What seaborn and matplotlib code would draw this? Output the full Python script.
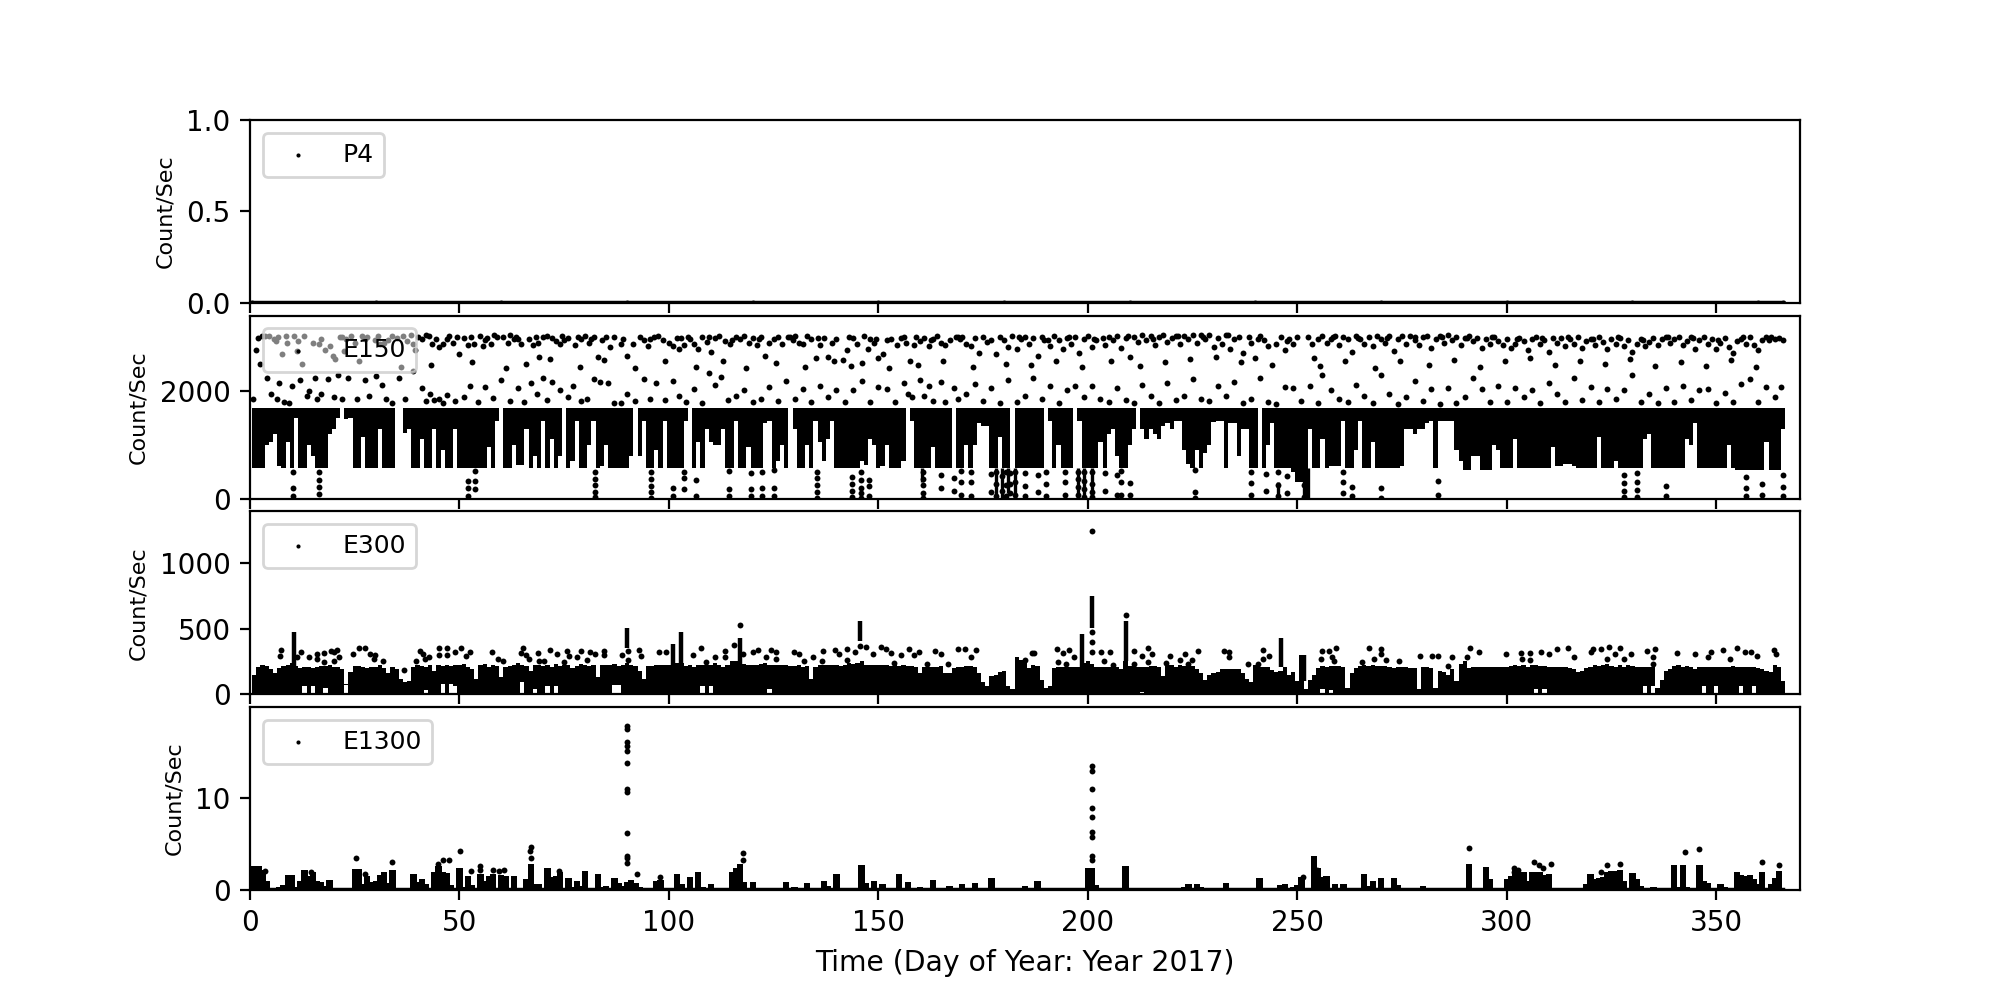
import numpy as np
import pandas as pd
import seaborn as sns
import matplotlib
matplotlib.use("Agg")
import matplotlib.pyplot as plt

# all values
# the solid black parts of the panels are too dense to read dot by dot, so they
# are kept as one height per day and drawn as columns

p4_days = [0.5, 30, 60, 90, 120, 150, 180, 210, 240, 270, 300, 330, 360, 366]
p4_counts = [0, 0, 0, 0, 0, 0, 0, 0, 0, 0, 0, 0, 0, 0]

# E150: bottom of the dense block for each day (block top is e150_block_top)
e150_block_top = 1680
e150_block_low = [
    1680, 560, 560, 560, 1000, 1050, 1100, 600, 560, 560,
    560, 1500, 560, 560, 560, 800, 560, 560, 560, 1200,
    1300, 1500, 1680, 1480, 1480, 560, 560, 560, 560, 560,
    560, 900, 560, 560, 560, 1680, 1680, 1220, 1200, 560,
    560, 560, 560, 560, 900, 560, 560, 560, 560, 560,
    560, 560, 560, 560, 560, 560, 560, 560, 560, 560,
    1680, 560, 560, 560, 620, 620, 560, 560, 800, 560,
    560, 560, 560, 560, 800, 1680, 560, 700, 560, 560,
    560, 1000, 500, 560, 600, 560, 560, 560, 560, 560,
    560, 800, 1680, 800, 1000, 560, 560, 560, 560, 560,
    560, 560, 560, 560, 560, 1680, 560, 560, 560, 560,
    1050, 1000, 1000, 560, 560, 560, 600, 560, 560, 560,
    560, 560, 560, 1400, 600, 560, 700, 560, 560, 1680,
    800, 560, 560, 1000, 560, 560, 560, 700, 1100, 560,
    560, 560, 560, 560, 560, 560, 700, 620, 700, 1000,
    560, 600, 1000, 560, 560, 560, 700, 1680, 560, 560,
    560, 560, 560, 560, 560, 560, 560, 560, 1680, 560,
    560, 800, 560, 1000, 1300, 1350, 1350, 560, 560, 560,
    560, 560, 1680, 560, 560, 560, 560, 560, 560, 560,
    1680, 1000, 560, 560, 560, 560, 560, 1680, 1000, 560,
    560, 560, 560, 560, 560, 1200, 560, 800, 560, 560,
    1000, 560, 1680, 600, 1100, 1300, 1200, 1100, 1350, 1400,
    1300, 1450, 1300, 900, 650, 560, 600, 560, 850, 1000,
    1430, 1450, 1450, 560, 1400, 1400, 800, 1300, 1300, 560,
    560, 1680, 560, 560, 560, 560, 560, 560, 560, 500,
    300, 300, 0, 560, 560, 560, 560, 560, 600, 600,
    600, 560, 560, 560, 900, 560, 560, 560, 560, 560,
    560, 560, 560, 560, 560, 600, 1200, 1300, 1200, 1300,
    1300, 1400, 1450, 560, 1450, 1450, 1450, 1450, 900, 700,
    530, 530, 800, 800, 530, 530, 530, 1000, 900, 560,
    560, 560, 560, 560, 560, 560, 560, 560, 560, 560,
    560, 560, 600, 600, 650, 650, 600, 560, 560, 560,
    560, 560, 800, 560, 560, 560, 700, 560, 560, 560,
    560, 560, 560, 1100, 1200, 560, 560, 560, 560, 560,
    560, 560, 560, 560, 1000, 1400, 560, 560, 560, 560,
    560, 560, 560, 560, 560, 530, 530, 530, 530, 530,
    530, 530, 530, 530, 530, 530, 1300,
]

# white slits in the E150 block: day and the level the block stops at
e150_slit_days = [
    6, 14, 24, 31, 38, 44, 49, 59, 66, 70, 75, 78, 82, 94, 99, 104, 109, 113,
    116, 124, 130, 135, 139, 152, 158, 168, 174, 182, 191, 198, 206, 211, 213,
    222, 232, 237, 244, 253, 261, 265, 276,
    9, 27, 41, 46, 57, 63, 72, 85, 97, 107, 119, 127, 136,
    148, 163, 171, 179, 193, 203, 226, 243, 256, 268, 302,
    311, 322, 334, 343, 353, 362,
]
e150_slit_low = [
    1200, 1000, 1500, 1300, 1300, 1300, 1300, 1450, 1300, 1450, 1450, 1450, 1450, 1450, 1450, 1450, 1300, 1300,
    1450, 1450, 1300, 1450, 1450, 1000, 1450, 1450, 1400, 1450, 1450, 1450, 1300, 1300, 1300,
    1450, 1450, 1300, 1400, 1300, 1450, 1450, 1300,
    1050, 1150, 1100, 900, 950, 1000, 1100, 1000, 900, 1050, 950, 1000, 1050,
    1100, 950, 1000, 1150, 1000, 1050, 900, 1000, 1100, 1050, 1100,
    950, 1150, 1050, 1100, 1000, 1050,
]

e150_upper_days = [
    1.4, 1.9, 2.8, 3.5, 4.6, 5.7, 6.2, 7.6, 8.5, 8.8,
    10.4, 11.3, 11.5, 13, 15, 16.5, 18, 19, 19.8, 20.2,
    21.6, 22.5, 23, 24.2, 25, 26.8, 27.5, 28, 29.8, 30.5,
    32, 33, 34, 35, 36.5, 37.5, 38.5, 39.5, 40, 41,
    42, 42.8, 43.5, 44.3, 45, 46, 47, 48.5, 49.5, 50,
    51, 52, 52.8, 53.5, 54.8, 55.5, 56.6, 57.5, 58.2, 59,
    60.5, 61.5, 62, 63, 64, 64.8, 66.5, 67.5, 68.2, 69,
    70, 71, 72, 73, 74, 75, 76, 77.5, 78.2, 79,
    80, 81, 82, 83, 84, 85, 86, 88.5, 89, 90,
    91.5, 93, 94, 95, 96.5, 97.5, 98.5, 100, 101, 102,
    102.5, 103.5, 104.5, 105, 106, 107, 108, 109, 110, 111,
    112, 113.5, 114.5, 116, 117, 118, 119, 120, 121, 122,
    123, 124, 125, 126, 127, 128.5, 129.5, 130, 131, 132,
    133, 134, 135, 136, 137, 138, 139, 140, 141.5, 142.5,
    143.5, 144, 145, 146.5, 147.5, 148, 149, 150, 151, 152,
    153, 154.5, 155.5, 156.5, 157.5, 158.5, 159, 160, 161, 162,
    163, 164, 165, 166, 167, 168.5, 169.5, 170, 171, 172,
    173, 174, 175, 176, 178, 179, 180, 181, 182, 183,
    184, 185, 186, 187, 188, 189, 190.5, 191, 192, 193,
    194, 195, 196, 197, 198, 199, 200, 201, 202, 203.5,
    204, 205, 206, 207, 208, 209, 210, 211, 212, 213,
    214, 215, 216, 217, 218, 219, 220, 221, 222, 223,
    224, 225, 226, 227, 228, 229, 230, 231, 232, 233,
    234, 235, 236, 237, 238.5, 239, 240, 241, 242, 243,
    245, 246, 247, 248, 249, 252.5, 253.5, 254, 255, 256,
    257, 258, 259, 260, 261, 262, 263, 264, 265, 266,
    267, 268, 269, 270, 271, 272, 273, 274, 275, 276,
    277, 278, 279, 280, 281, 282, 283, 284, 285, 286,
    287, 288, 289, 290, 291, 292, 293, 294, 295, 296,
    297, 298, 299, 300, 301, 302, 303, 304, 305, 306,
    307, 308, 309, 310, 311, 312, 313, 314, 315, 316,
    317, 318, 319, 320, 321, 322, 323, 324, 325, 326,
    327, 328, 329, 330, 331, 332, 333, 334, 335, 336,
    337, 338, 339, 340, 341, 342, 343, 344, 345, 346,
    347, 348, 349, 350, 351, 352, 353, 354, 355, 356,
    357, 358, 359, 360, 361, 362, 363, 364, 365, 366,
]
e150_upper_counts = [
    2760, 2980, 3030, 3025, 3025, 2960, 2930, 2680, 3025, 2900,
    3025, 2745, 2930, 3025, 2900, 2880, 2760, 2830, 2650, 2600,
    3000, 2750, 2960, 3030, 2900, 3020, 2960, 3000, 2950, 3020,
    2900, 2950, 3030, 2980, 3020, 2930, 3040, 2760, 3000, 2960,
    3040, 3020, 2880, 2960, 2820, 2880, 2960, 2900, 3000, 2680,
    2980, 2860, 3010, 2880, 3020, 2840, 2980, 2880, 3040, 3000,
    3010, 2900, 3040, 2960, 2960, 2880, 2960, 2860, 3010, 2640,
    3000, 3020, 2990, 2930, 2880, 2950, 2980, 2850, 3010, 2960,
    3020, 2890, 3000, 2630, 2950, 3000, 2820, 2880, 2960, 2660,
    2880, 3010, 2940, 2840, 3010, 3030, 2950, 2900, 2840, 2990,
    2780, 2860, 3000, 2970, 2870, 2780, 3000, 2920, 2730, 2990,
    3030, 2930, 2880, 3000, 2960, 3030, 2900, 2980, 2850, 3010,
    2650, 2900, 2960, 3000, 2880, 3010, 2950, 3020, 2900, 2880,
    3030, 2960, 2620, 2850, 2980, 2640, 2900, 2960, 2580, 2760,
    2460, 2980, 2880, 3030, 2780, 2960, 2890, 2620, 2690, 2940,
    2960, 2860, 2980, 2890, 2560, 2850, 3010, 2930, 2990, 2840,
    2960, 3020, 2900, 2860, 2950, 3000, 2960, 3010, 2880, 2830,
    2980, 2700, 3010, 2920, 2690, 3000, 2950, 2820, 3020, 2780,
    2960, 3000, 2870, 2980, 2660, 3010, 2940, 2830, 3020, 2950,
    2780, 2990, 2880, 3010, 2700, 2960, 3030, 2810, 2940, 2990,
    2860, 3010, 2950, 3030, 2800, 2980, 2630, 3010, 2910, 3040,
    2950, 3020, 2860, 3000, 3040, 2920, 2980, 3030, 2880, 3020,
    2960, 3040, 2890, 3050, 2970, 3040, 2820, 2990, 2880, 3040,
    2780, 2960, 3010, 2700, 3000, 2890, 2620, 3020, 2950, 2830,
    2870, 3000, 2760, 2960, 2880, 3010, 2880, 2620, 2960, 3020,
    2900, 2970, 3030, 2850, 3010, 2960, 2720, 3030, 2970, 2880,
    3000, 2830, 3030, 2960, 2890, 3020, 2750, 2960, 3030, 2880,
    3020, 2950, 2860, 3000, 3030, 2800, 2960, 3020, 2890, 3040,
    2950, 3010, 2860, 2980, 3030, 2930, 2990, 2800, 2960, 2880,
    3010, 2930, 2850, 2970, 2800, 2880, 2990, 2930, 2760, 2960,
    3000, 2870, 2950, 2720, 2990, 2900, 2980, 2830, 2960, 2880,
    3000, 2800, 2930, 2970, 2860, 3000, 2920, 2780, 2960, 2880,
    2990, 2840, 2950, 2720, 2880, 2970, 2840, 2920, 2990, 2860,
    2960, 3010, 2890, 2960, 3000, 2860, 2930, 3010, 2780, 2950,
    3000, 2870, 2960, 2780, 2900, 2980, 2820, 2700, 2930, 2970,
    2880, 3000, 2860, 2770, 2950, 3000, 3010, 2960, 2990, 2940,
]

# second pass over the top cloud, where dots sit on top of each other
e150_extra_days = [
    2.4, 6.8, 12.4, 17, 22, 26, 31, 36, 39, 43.2, 47.5, 53, 56, 61, 63.5, 66, 68.8, 71.5, 74.5, 78.8,
    81.5, 84.5, 87, 92, 95.5, 99, 103, 106.5, 109.5, 113, 115, 118.5, 121.5, 125.5, 129, 132.5, 135.5, 139.5,
    143, 146, 149.5, 152.5, 156, 159.5, 162.5, 165.5, 169, 172.5, 177, 180.5, 183.5, 186.5, 189.5, 192.5, 195.5,
    198.5, 201.5, 205.5, 209.5, 212.5, 215.5, 218.5, 221.5, 224.5, 227.5, 230.5, 233.5, 236.5, 240.5, 244, 247.5,
    250, 255.5, 258.5, 261.5, 264.5, 268.5, 271.5, 274.5, 278, 281.5, 284.5, 287.5, 290.5, 293.5, 296.5, 299.5,
    302.5, 305.5, 308.5, 311.5, 314.5, 317.5, 320.5, 323.5, 326.5, 329.5, 332.5, 335.5, 338.5, 341.5, 344.5,
    347.5, 350.5, 353.5, 356.5, 359.5, 362.5,
]
e150_extra_counts = [
    2500, 3000, 2500, 2960, 3010, 2560, 2880, 2450, 2880, 2480, 3020, 2540, 2950, 2430, 3010, 2500, 2900, 2590, 3020, 2440,
    2960, 2570, 3000, 2420, 2960, 2560, 2980, 2450, 3010, 2550, 2950, 2420, 2960, 2520, 3010, 2450, 2980, 2560,
    3010, 2520, 2960, 2430, 3000, 2480, 2950, 2560, 3000, 2440, 2950, 2510, 3010, 2480, 2950, 2560, 3010,
    2440, 2960, 2550, 3020, 2470, 2960, 2540, 3030, 2600, 3000, 2630, 3040, 2540, 2960, 2480, 2930,
    3000, 2470, 3010, 2560, 2980, 2430, 2990, 2560, 3000, 2490, 3010, 2570, 2980, 2450, 3010, 2560,
    2960, 2620, 2990, 2480, 3000, 2560, 2960, 2510, 3010, 2600, 2950, 2470, 3000, 2540, 2990,
    2460, 2950, 2570, 3000, 2450, 2950,
]

e150_middle_days = [
    0.8, 4, 5, 6.5, 7, 8, 9.2, 10, 12, 13.5,
    14, 15.5, 16, 17, 18.5, 20, 21, 22, 23.5, 25.5,
    27.5, 28.5, 30, 31.5, 32.5, 34, 35.5, 37, 38.8, 41,
    42, 43, 44, 45, 46, 47, 49, 51, 52.5, 54.5,
    56, 58, 60, 62, 64, 65.5, 67, 68.5, 70, 71,
    72, 74, 76, 77, 79, 80.5, 82, 83.5, 85.5, 87,
    88.5, 90, 92, 94, 95.5, 97, 99, 101, 102.5, 104,
    106, 108, 109.5, 111, 112.5, 114, 116, 118, 120, 122,
    124, 126, 128, 130, 132, 134, 136, 138, 140, 142,
    144, 146, 148, 150, 152, 154, 156, 157, 158, 160,
    161, 162, 163, 165, 166, 168, 169, 171, 173, 175,
    177, 179, 181, 183, 185, 187, 189, 191, 193, 195,
    197, 199, 201, 203, 205, 207, 209, 211, 213, 215,
    217, 219, 221, 223, 225, 227, 229, 231, 233, 235,
    237, 239, 241, 243, 245, 247, 249, 251, 253, 255,
    256, 258, 260, 262, 264, 266, 268, 270, 272, 274,
    276, 278, 280, 282, 284, 286, 288, 290, 292, 294,
    296, 298, 300, 302, 304, 306, 308, 310, 312, 314,
    316, 318, 320, 322, 324, 326, 328, 330, 332, 334,
    336, 338, 340, 342, 344, 346, 348, 350, 352, 354,
    356, 358, 360, 362, 364, 365.5,
]
e150_middle_counts = [
    1850, 2240, 1950, 1850, 2150, 1800, 1770, 2100, 2200, 1900,
    2000, 2250, 1850, 1950, 2220, 1880, 2300, 1860, 2240, 1850,
    2200, 1900, 2280, 2120, 1860, 1780, 2240, 1850, 2380, 2060,
    1820, 1950, 1830, 1860, 1780, 1930, 1820, 1890, 2100, 1800,
    2080, 1870, 2210, 1820, 2060, 1800, 2150, 1950, 2240, 1830,
    2170, 2020, 1880, 2100, 1820, 1850, 2220, 2170, 2140, 1780,
    1780, 1950, 1820, 2230, 1850, 2150, 1840, 2190, 1900, 1800,
    2040, 1780, 2330, 2110, 2260, 1830, 1900, 2010, 1800, 1860,
    2080, 1820, 2190, 1850, 2040, 1790, 2100, 1880, 2020, 1790,
    2010, 2190, 1800, 2080, 2040, 1800, 2150, 1950, 1880, 2200,
    1900, 2100, 1820, 2160, 1790, 2060, 1850, 1950, 2130, 1820,
    2060, 1780, 2200, 1800, 1900, 2240, 1860, 2100, 1770, 2020,
    2100, 1880, 2090, 1850, 1800, 2050, 1840, 1780, 2120, 1900,
    1780, 2150, 1830, 1900, 2230, 1860, 1820, 2100, 1900, 2160,
    1780, 1850, 2240, 1800, 1760, 2080, 2050, 1820, 2100, 1780,
    2290, 2010, 1850, 1790, 2120, 1900, 1780, 2300, 1950, 1760,
    1880, 2180, 1820, 2030, 1750, 2050, 1770, 1880, 2250, 2040,
    1800, 2100, 1790, 2050, 1890, 2010, 1780, 2140, 1950, 1790,
    2250, 1840, 2080, 1790, 2040, 1860, 2010, 2290, 1800, 1950,
    1780, 2060, 1790, 2100, 1840, 2010, 2030, 1780, 1960, 1790,
    2130, 2220, 1790, 2080, 1880, 2080,
]

e150_lower_days = [
    10.2, 10.2, 10.2, 16.5, 16.5, 16.5, 16.5, 52, 52, 52, 53.8, 53.8, 53.8,
    82.4, 82.4, 82.4, 82.4, 82.4, 95.7, 95.7, 95.7, 95.7, 95.7, 101, 101,
    103.5, 103.5, 103.5, 106.5, 106.5, 114.4, 114.4, 114.4, 119.7, 119.7, 119.7,
    122.2, 122.2, 122.2, 125, 125, 125, 135.4, 135.4, 135.4, 135.4, 135.4,
    143.7, 143.7, 143.7, 143.7, 145.8, 145.8, 145.8, 145.8, 145.8, 147.8, 147.8, 147.8,
    160.6, 160.6, 160.6, 160.6, 160.6, 165, 165, 168, 168, 169.8, 169.8, 169.8,
    172, 172, 172, 177, 177, 178, 178, 178, 179.5, 179.5, 180.5, 180.5, 180.5,
    181.5, 181.5, 181.5, 182.5, 182.5, 182.5, 185, 185, 185, 188, 188, 190, 190, 190,
    194.5, 194.5, 194.5, 197.6, 197.6, 197.6, 197.6, 199, 199, 199, 199, 201, 201, 201, 201,
    204, 204, 207, 207, 208, 208, 208, 210, 210, 225.5, 225.5, 225.5,
    239, 239, 239, 242.5, 242.5, 245.5, 245.5, 245.5, 247.5, 247.5, 251.5, 251.5, 251.5,
    261, 261, 261, 263, 263, 270, 270, 283.7, 283.7,
    328, 328, 328, 328, 331, 331, 331, 331, 338, 338, 357, 357, 357, 361, 361,
    366, 366, 366,
]
e150_lower_counts = [
    500, 190, 40, 500, 340, 210, 80, 330, 200, 50, 520, 330, 180,
    500, 370, 250, 130, 30, 500, 370, 240, 120, 20, 200, 40,
    500, 390, 180, 340, 40, 510, 170, 50, 470, 170, 50,
    500, 190, 50, 540, 200, 50, 500, 380, 260, 130, 20,
    400, 270, 150, 30, 500, 350, 200, 100, 20, 350, 230, 40,
    500, 370, 250, 110, 20, 430, 200, 390, 140, 520, 310, 60,
    500, 300, 50, 450, 120, 500, 270, 40, 420, 150, 500, 250, 40,
    480, 280, 100, 500, 300, 60, 470, 230, 50, 430, 120, 500, 270, 40,
    500, 300, 60, 500, 360, 210, 60, 500, 330, 170, 30, 500, 280, 130, 30,
    480, 140, 440, 60, 520, 300, 60, 290, 60, 540, 130, 10,
    490, 290, 60, 460, 140, 500, 260, 40, 420, 110, 500, 260, 30,
    500, 310, 100, 220, 50, 200, 20, 320, 60,
    440, 290, 140, 30, 470, 300, 160, 30, 240, 50, 400, 200, 50, 280, 70,
    430, 220, 40,
]
# stretches under the block where the dots run together
e150_deep_days = [160.5, 178, 179.5, 181, 182.5, 197.6, 199, 201, 245.5, 251.5, 252.5]
e150_deep_low = [300, 0, 0, 100, 0, 0, 0, 0, 0, 0, 0]
e150_deep_high = [560, 560, 560, 560, 560, 560, 560, 560, 300, 560, 560]

e300_counts_day = [
    0, 150, 210, 225, 215, 190, 165, 200, 215, 225,
    235, 215, 200, 205, 205, 200, 205, 215, 215, 225,
    210, 205, 190, 80, 170, 215, 215, 205, 200, 210,
    205, 220, 200, 165, 205, 195, 120, 90, 100, 210,
    225, 215, 205, 220, 180, 225, 215, 220, 215, 225,
    220, 230, 210, 190, 120, 225, 230, 205, 220, 215,
    130, 210, 215, 220, 235, 220, 215, 175, 220, 225,
    215, 225, 210, 230, 215, 225, 220, 200, 215, 230,
    225, 215, 225, 130, 225, 220, 225, 230, 215, 225,
    235, 220, 215, 175, 120, 215, 215, 220, 220, 225,
    225, 225, 235, 240, 215, 220, 205, 225, 225, 220,
    225, 235, 220, 210, 225, 250, 255, 240, 230, 225,
    225, 225, 230, 240, 220, 225, 225, 225, 220, 215,
    215, 220, 205, 215, 120, 210, 225, 225, 220, 225,
    225, 215, 220, 235, 230, 240, 250, 220, 220, 220,
    220, 220, 220, 215, 220, 215, 220, 215, 215, 210,
    165, 205, 210, 205, 210, 215, 160, 165, 200, 205,
    210, 215, 215, 205, 160, 90, 60, 140, 150, 170,
    175, 60, 40, 280, 260, 270, 200, 220, 215, 110,
    50, 60, 200, 210, 210, 205, 205, 205, 205, 240,
    250, 230, 210, 205, 205, 205, 205, 205, 190, 250,
    215, 215, 210, 205, 210, 215, 215, 205, 140, 220,
    225, 210, 225, 215, 235, 215, 195, 165, 105, 150,
    165, 170, 190, 190, 190, 195, 195, 165, 120, 90,
    220, 210, 205, 205, 185, 170, 175, 205, 150, 170,
    100, 300, 40, 110, 150, 200, 215, 210, 215, 215,
    215, 205, 50, 160, 200, 215, 225, 215, 225, 215,
    215, 215, 210, 200, 210, 210, 210, 200, 200, 40,
    205, 210, 200, 50, 180, 170, 150, 195, 100, 230,
    250, 200, 205, 205, 205, 205, 205, 205, 205, 205,
    205, 215, 225, 215, 225, 210, 220, 225, 215, 215,
    210, 210, 210, 210, 210, 200, 190, 170, 175, 200,
    210, 225, 215, 225, 230, 215, 205, 225, 210, 220,
    215, 205, 205, 205, 205, 205, 45, 110, 175, 195,
    215, 220, 210, 215, 205, 195, 205, 210, 205, 205,
    205, 205, 210, 205, 215, 210, 205, 205, 205, 205,
    200, 190, 175, 170, 220, 210, 100,
]
# days where the black column stops short of the axis
e300_notch_days = [13, 15, 18, 23, 42, 46, 48, 49, 65, 68, 71, 73, 87, 88, 108, 110, 124,
                   213, 256, 258, 307, 309, 333, 335, 347, 350, 356, 359]
e300_notch_low = [60, 60, 50, 70, 30, 80, 80, 60, 90, 40, 60, 60, 70, 70, 60, 60, 40,
                  20, 40, 30, 40, 40, 60, 60, 60, 60, 60, 60]

e300_spike_days = [10.6, 90, 101, 103, 117, 145.5, 198.5, 201, 209, 246, 251.7]
e300_spike_low = [200, 355, 205, 205, 230, 405, 180, 505, 255, 205, 100]
e300_spike_high = [470, 505, 380, 470, 425, 555, 455, 745, 555, 430, 300]

e300_dot_days = [
    7.3, 7.1, 12.2, 11.2, 14, 15.9, 15.9, 17.7, 19.3, 20.1, 20.7, 21.3, 20.1, 17.7,
    24.6, 25.9, 27.4, 28.7, 29.9, 29.5, 31.7, 36.8, 40.5, 41.2, 42.7, 41.7, 39.6,
    45.1, 47, 45.1, 47, 49, 50.4, 52.4, 51.5, 57.7, 59.1, 60.4, 65.2, 64.6, 65.9,
    66.5, 68.7, 68.9, 70.1, 71.6, 73.2, 75.6, 76.2, 75, 79, 78, 81.1, 80.5, 82.3,
    84.4, 84.4, 88.8, 90.2, 92.9, 93.3, 90.2, 97.6, 99.4, 105.7, 107.6, 108.8, 111,
    113.4, 113.4, 115.5, 117.7, 120.1, 121.3, 124.4, 125.6, 123.2, 125.6, 129.9,
    131.1, 134.5, 132.3, 136.8, 136.6, 139.6, 140.5, 142.4, 142.4, 144.5, 145.7, 147,
    148.8, 150.6, 151.8, 153, 153.7, 155.5, 157.3, 158.5, 159.8, 161.6, 163.4, 164.9,
    168.9, 170.7, 172, 173.2, 166.5, 187.2, 185,
    186.7, 192.7, 194.1, 195.6, 196.6, 192.8, 194.9, 203.2, 205.3, 203.8, 205.9, 211.1,
    214.3, 212.9, 215.2, 211, 214.3, 219.6, 218.6, 223.1, 222.1, 224.9, 226.2, 224,
    232.6, 233.8, 233.8, 238.2, 241.7, 241.7, 243.2, 240.5, 255.9, 257.5, 259.2, 255.6,
    258.2, 258.8, 267, 269.9, 269.9, 268.3, 271.2, 265.5, 274.3, 279.4, 282.2, 283.6,
    286.9, 286, 291.3, 293.3, 290.4, 299.9, 303.4, 305.6, 308.1, 310.2, 312.1, 314.7,
    316, 303.7, 305.6, 320.1, 320.7, 322.6, 324.3, 327.1, 325.8, 329.6, 328.1, 323.9,
    333.4, 335.5, 334.9, 334.9, 340.7, 345, 348.8, 348, 351.7, 353.4, 354.9, 356.8,
    358.4, 359.7, 363.7, 364.3, 201, 209, 117, 201, 201, 201,
]
e300_dot_counts = [
    337, 294, 319, 281, 286, 307, 269, 312, 332, 319, 337, 286, 251, 244,
    307, 352, 352, 307, 302, 269, 251, 186, 327, 307, 281, 269, 251,
    352, 352, 302, 302, 319, 352, 319, 294, 322, 269, 256, 352, 312, 302,
    269, 312, 251, 251, 337, 307, 332, 294, 244, 332, 281, 319, 261, 307,
    332, 302, 302, 332, 337, 294, 261, 322, 322, 302, 352, 244, 286,
    332, 281, 374, 307, 319, 337, 337, 319, 281, 269, 319,
    307, 286, 256, 327, 251, 337, 307, 344, 261, 319, 369, 357,
    307, 362, 344, 312, 236, 302, 344, 302, 319, 231, 332, 307,
    344, 344, 281, 337, 231, 314, 264,
    314, 344, 314, 339, 281, 244, 231, 319, 324, 256, 224, 332,
    349, 294, 307, 231, 244, 294, 236, 307, 261, 264, 332, 231,
    332, 319, 281, 231, 337, 269, 289, 231, 332, 332, 349, 269,
    281, 251, 349, 344, 307, 269, 261, 244, 256, 294, 294, 294,
    281, 214, 349, 319, 281, 307, 314, 314, 324, 307, 344, 349,
    281, 269, 261, 319, 344, 344, 357, 352, 307, 307, 269, 269,
    332, 344, 281, 231, 314, 307, 319, 281, 337, 269, 352, 324,
    324, 294, 339, 307, 1240, 600, 525, 470, 400, 320,
]

e1300_peak_days = [
    1, 2, 3, 4, 7, 8, 9, 10, 11, 12, 13, 14, 15, 16, 17, 18, 19, 25, 26, 27, 28, 29, 30,
    31, 32, 33, 34, 39, 40, 41, 42, 43, 44, 45, 46, 47, 48, 50, 51, 52, 53, 55, 56,
    57, 58, 60, 61, 63, 66, 67, 68, 69, 71, 72, 73, 74, 75, 76, 77, 78, 79, 80, 81, 83,
    84, 85, 87, 88, 89, 90, 91, 92, 93, 97, 98, 102, 103, 105, 106, 107, 108, 110, 115,
    116, 117, 118, 120, 121, 125, 128, 130, 133, 137, 138, 140, 146, 147, 149, 151,
    155, 157, 160, 163, 167, 170, 173, 177, 185, 188, 193, 200, 201, 202, 205, 209,
    214, 218, 223, 224, 226, 227, 233, 236, 241, 246, 247, 249, 250, 251, 254, 255,
    256, 257, 259, 261, 266, 267, 268, 270, 273, 274, 277, 280, 291, 293, 295, 296,
    297, 300, 301, 302, 303, 304, 305, 306, 307, 308, 309, 310, 311, 312, 315, 318,
    319, 320, 321, 322, 323, 324, 325, 326, 327, 328, 330, 331, 332, 335, 340, 341,
    342, 343, 346, 347, 348, 351, 352, 355, 356, 357, 358, 359, 360, 361, 363, 364, 365,
]
e1300_peak_counts = [
    2.6, 2.6, 2.2, 1.0, 0.3, 0.5, 1.6, 1.6, 0.3, 1.0, 2.2, 1.5, 1.9, 1.0, 0.9, 0.4, 1.1, 2.3, 2.3, 0.6, 1.5, 0.9, 1.0,
    1.6, 1.9, 0.8, 2.2, 1.7, 0.9, 1.2, 0.6, 0.2, 2.0, 2.6, 1.9, 1.8, 0.5, 2.4, 0.3, 1.5, 0.5, 1.7, 1.0,
    1.5, 1.7, 1.6, 1.5, 1.5, 1.2, 2.8, 0.7, 0.6, 2.4, 1.4, 1.5, 2.0, 0.2, 1.3, 0.3, 1.0, 0.4, 2.1, 0.2, 1.7,
    0.3, 0.4, 1.3, 0.8, 0.4, 0.9, 1.1, 0.8, 0.3, 1.0, 1.1, 1.7, 0.6, 1.4, 0.2, 1.9, 0.3, 0.6, 2.0,
    2.4, 2.8, 0.9, 0.9, 0.2, 0.2, 0.9, 0.3, 0.8, 1.0, 0.4, 1.7, 2.7, 0.8, 1.0, 0.7,
    1.7, 0.9, 0.3, 1.1, 0.4, 0.6, 0.8, 1.3, 0.4, 1.0, 0.2, 2.4, 2.4, 0.5, 0.1, 2.6,
    0.2, 0.1, 0.3, 0.7, 0.6, 0.3, 0.8, 0.2, 1.3, 0.5, 0.6, 0.3, 0.5, 1.4, 3.7, 2.4,
    1.4, 1.5, 0.6, 0.6, 1.7, 0.4, 1.0, 1.3, 1.3, 0.5, 0.1, 0.4, 2.8, 0.2, 2.5, 1.2,
    0.2, 1.2, 1.5, 2.4, 2.0, 2.0, 1.0, 2.0, 2.0, 2.0, 1.6, 1.7, 0.2, 0.2, 0.2, 0.2,
    0.7, 1.7, 1.2, 1.3, 1.4, 2.0, 2.1, 2.1, 2.2, 1.0, 1.8, 1.2, 0.4, 0.3, 2.7, 0.3,
    2.7, 0.3, 2.7, 1.0, 0.8, 0.7, 0.3, 1.9, 1.6, 1.5, 1.6, 1.2, 0.6, 2.0, 0.6, 1.3, 2.1,
]
e1300_dot_days = [
    90, 90, 90, 90, 90, 90, 90, 90, 90, 90, 90, 90, 25.4, 27.4, 33.9, 3.5, 14.6, 44.9, 46.1,
    47.6, 50.2, 52.8, 54.9, 54.9, 57.9, 59.5, 60.6, 67.1, 66.8, 67.1, 73.8, 92.4, 97.8,
    117.7, 117.7, 201, 201, 201, 201, 201, 201, 201, 201, 201, 290.9, 306.6, 307.8, 308.7,
    310.6, 301.8, 301.8, 302.8, 322.4, 323.9, 327, 342.5, 345.8, 360.9, 365, 254.6, 251.3,
]
e1300_dot_counts = [
    17.8, 17.4, 16, 15.6, 15, 13.7, 10.9, 10.6, 6.2, 3.7, 3.5, 2.9, 3.5, 1.7, 3.0, 2.1, 2.0, 2.8, 3.2,
    3.2, 4.2, 2.1, 2.6, 2.2, 2.2, 2.1, 2.2, 4.7, 4.2, 3.5, 2.1, 1.7, 1.4,
    4.0, 3.2, 13.4, 12.9, 10.9, 8.9, 7.9, 6.3, 5.7, 3.7, 3.2, 4.5, 3.0, 2.7, 2.4,
    2.8, 2.4, 1.9, 2.2, 2.0, 2.7, 2.8, 4.1, 4.4, 3.0, 2.7, 2.2, 1.4,
]

panel_limits = [(0, 1), (0, 3400), (0, 1390), (0, 19.8)]
panel_ticks = [[0.0, 0.5, 1.0], [0, 2000], [0, 500, 1000], [0, 10]]
x_ticks = [0, 50, 100, 150, 200, 250, 300, 350]

DOT_SIZE = 4.5


def draw_dots(ax, days, counts, label=None):
    df = pd.DataFrame({'Day': days, 'Count': counts})
    sns.scatterplot(data=df, x='Day', y='Count', ax=ax, color='black', s=DOT_SIZE,
                    linewidth=0, label=label, zorder=3)


fig, axes = plt.subplots(4, 1, figsize=(10, 5), dpi=200, sharex=True)
fig.subplots_adjust(hspace=0.07)

# P4
draw_dots(axes[0], p4_days, p4_counts, label='P4')
axes[0].plot(p4_days, p4_counts, color='black', lw=1.6)

# E150
low = np.array(e150_block_low, dtype=float)
for day, value in zip(e150_slit_days, e150_slit_low):
    low[day] = max(low[day], value)
axes[1].bar(np.arange(len(low)), e150_block_top - low, bottom=low, width=1.0,
            color='black', linewidth=0)
axes[1].vlines(e150_deep_days, e150_deep_low, e150_deep_high, color='black', lw=1.2)
draw_dots(axes[1], e150_upper_days, e150_upper_counts, label='E150')
draw_dots(axes[1], e150_extra_days, e150_extra_counts)
draw_dots(axes[1], e150_middle_days, e150_middle_counts)
draw_dots(axes[1], e150_lower_days, e150_lower_counts)

# E300
tops = np.array(e300_counts_day, dtype=float)
bottoms = np.zeros(len(tops))
for day, value in zip(e300_notch_days, e300_notch_low):
    bottoms[day] = value
axes[2].bar(np.arange(len(tops)), tops - bottoms, bottom=bottoms, width=1.0,
            color='black', linewidth=0)
axes[2].vlines(e300_spike_days, e300_spike_low, e300_spike_high, color='black', lw=1.6)
draw_dots(axes[2], e300_dot_days, e300_dot_counts, label='E300')

# E1300
axes[3].bar(e1300_peak_days, e1300_peak_counts, width=1.5, color='black', linewidth=0)
axes[3].plot(p4_days, p4_counts, color='black', lw=1.6)
draw_dots(axes[3], e1300_dot_days, e1300_dot_counts, label='E1300')

for ax, limits, ticks in zip(axes, panel_limits, panel_ticks):
    ax.set_xlim(0, 370)
    ax.set_ylim(limits)
    ax.set_yticks(ticks)
    ax.set_xticks(x_ticks)
    ax.set_ylabel('Count/Sec', fontsize=8)
    ax.set_xlabel('')
    leg = ax.legend(loc='upper left', fontsize=9, scatterpoints=1, markerscale=0.7)
    frame = leg.get_frame()
    frame.set_alpha(None)
    frame.set_facecolor((1, 1, 1, 0.5))
    frame.set_edgecolor((0.8, 0.8, 0.8, 0.8))

axes[-1].set_xlabel('Time (Day of Year: Year 2017)', fontsize=10.2)

plt.savefig('out.png', dpi=200)
